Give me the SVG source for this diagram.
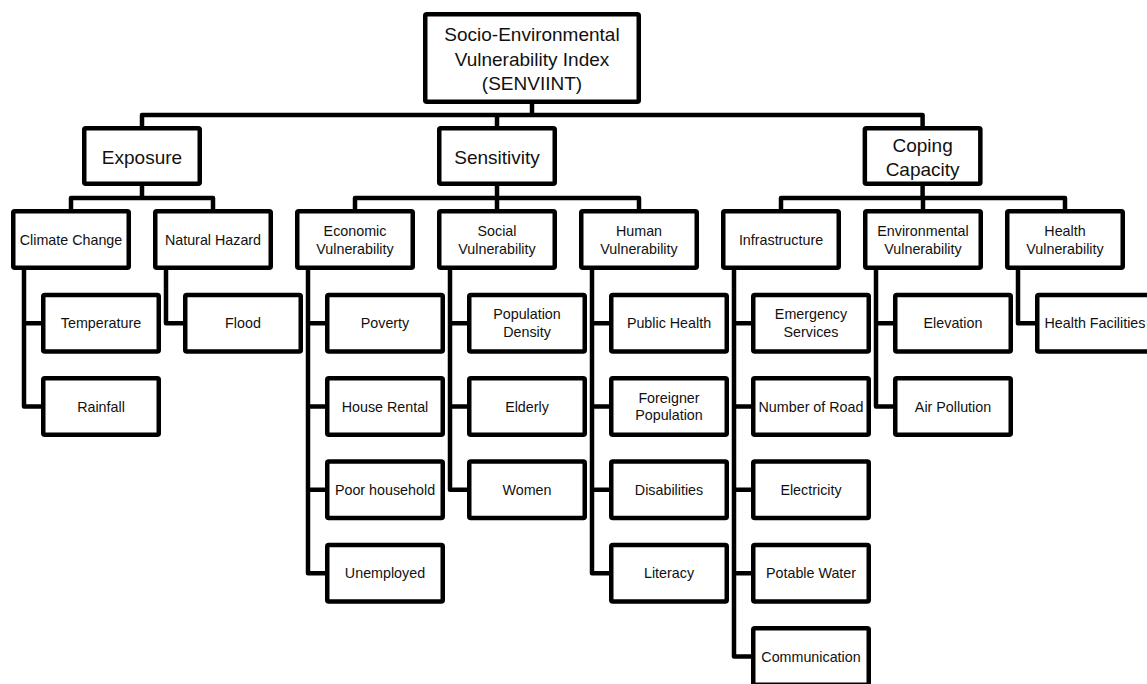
<svg xmlns="http://www.w3.org/2000/svg" width="1147" height="684" viewBox="0 0 1147 684">
  <style>
    .box { fill: #ffffff; stroke: #000000; stroke-width: 4.5; stroke-linejoin: round; }
    .wire { fill: none; stroke: #000000; stroke-width: 4.5; stroke-linejoin: round; stroke-linecap: butt; }
    text { font-family: "Liberation Sans", Arial, sans-serif; fill: #111111; text-anchor: middle; }
    .big { font-size: 19px; }
    .small { font-size: 14.3px; }
  </style>
  <rect x="0" y="0" width="1147" height="684" fill="#ffffff"/>

  <!-- tree connectors -->
  <g id="connectors">
    <path class="wire" d="M532,102 V115"/>
    <path class="wire" d="M142,128 V115 H922.6 V128"/>
    <path class="wire" d="M497,115 V128"/>
    <path class="wire" d="M142,184 V198"/>
    <path class="wire" d="M71,211 V198 H213 V211"/>
    <path class="wire" d="M497,184 V198"/>
    <path class="wire" d="M355,211 V198 H639 V211"/>
    <path class="wire" d="M497,198 V211"/>
    <path class="wire" d="M922.6,184 V198"/>
    <path class="wire" d="M781,211 V198 H1065 V211"/>
    <path class="wire" d="M923,198 V211"/>
    <path class="wire" d="M24,268 V406.5 H41 M24,323.2 H41"/>
    <path class="wire" d="M166,268 V323.2 H183"/>
    <path class="wire" d="M308,268 V573.2 H325 M308,323.2 H325 M308,406.5 H325 M308,489.8 H325"/>
    <path class="wire" d="M450,268 V489.8 H467 M450,323.2 H467 M450,406.5 H467"/>
    <path class="wire" d="M592,268 V573.2 H609 M592,323.2 H609 M592,406.5 H609 M592,489.8 H609"/>
    <path class="wire" d="M734,268 V656.5 H751 M734,323.2 H751 M734,406.5 H751 M734,489.8 H751 M734,573.2 H751"/>
    <path class="wire" d="M876,268 V406.5 H893 M876,323.2 H893"/>
    <path class="wire" d="M1018,268 V323.2 H1035"/>
  </g>

  <!-- root -->
  <g id="senviint">
    <rect class="box" x="425.25" y="14.25" width="213.5" height="87.5" rx="1.5"/>
    <text class="big" x="532" y="41">Socio-Environmental</text>
    <text class="big" x="532" y="65.5">Vulnerability Index</text>
    <text class="big" x="532" y="90">(SENVIINT)</text>
  </g>

  <!-- dimensions -->
  <g id="exposure">
    <rect class="box" x="84.25" y="128.25" width="115.5" height="55.5" rx="1.5"/>
    <text class="big" x="142" y="163.5">Exposure</text>
  </g>
  <g id="sensitivity">
    <rect class="box" x="439.25" y="128.25" width="115.5" height="55.5" rx="1.5"/>
    <text class="big" x="497" y="163.5">Sensitivity</text>
  </g>
  <g id="coping-capacity">
    <rect class="box" x="864.85" y="128.25" width="115.5" height="55.5" rx="1.5"/>
    <text class="big" x="922.6" y="151.5">Coping</text>
    <text class="big" x="922.6" y="175.5">Capacity</text>
  </g>

  <!-- components -->
  <g id="climate-change">
    <rect class="box" x="13.25" y="211.25" width="115.5" height="56.5" rx="1.5"/>
    <text class="small" x="71" y="245">Climate Change</text>
  </g>
  <g id="natural-hazard">
    <rect class="box" x="155.25" y="211.25" width="115.5" height="56.5" rx="1.5"/>
    <text class="small" x="213" y="245">Natural Hazard</text>
  </g>
  <g id="economic-vulnerability">
    <rect class="box" x="297.25" y="211.25" width="115.5" height="56.5" rx="1.5"/>
    <text class="small" x="355" y="235.7">Economic</text>
    <text class="small" x="355" y="253.5">Vulnerability</text>
  </g>
  <g id="social-vulnerability">
    <rect class="box" x="439.25" y="211.25" width="115.5" height="56.5" rx="1.5"/>
    <text class="small" x="497" y="235.7">Social</text>
    <text class="small" x="497" y="253.5">Vulnerability</text>
  </g>
  <g id="human-vulnerability">
    <rect class="box" x="581.25" y="211.25" width="115.5" height="56.5" rx="1.5"/>
    <text class="small" x="639" y="235.7">Human</text>
    <text class="small" x="639" y="253.5">Vulnerability</text>
  </g>
  <g id="infrastructure">
    <rect class="box" x="723.25" y="211.25" width="115.5" height="56.5" rx="1.5"/>
    <text class="small" x="781" y="245">Infrastructure</text>
  </g>
  <g id="environmental-vulnerability">
    <rect class="box" x="865.25" y="211.25" width="115.5" height="56.5" rx="1.5"/>
    <text class="small" x="923" y="235.7">Environmental</text>
    <text class="small" x="923" y="253.5">Vulnerability</text>
  </g>
  <g id="health-vulnerability">
    <rect class="box" x="1007.25" y="211.25" width="115.5" height="56.5" rx="1.5"/>
    <text class="small" x="1065" y="235.7">Health</text>
    <text class="small" x="1065" y="253.5">Vulnerability</text>
  </g>

  <!-- indicators: Exposure -->
  <g id="temperature">
    <rect class="box" x="43.25" y="294.95" width="115.5" height="56.5" rx="1.5"/>
    <text class="small" x="101" y="328.4">Temperature</text>
  </g>
  <g id="rainfall">
    <rect class="box" x="43.25" y="378.25" width="115.5" height="56.5" rx="1.5"/>
    <text class="small" x="101" y="411.7">Rainfall</text>
  </g>
  <g id="flood">
    <rect class="box" x="185.25" y="294.95" width="115.5" height="56.5" rx="1.5"/>
    <text class="small" x="243" y="328.4">Flood</text>
  </g>

  <!-- indicators: Sensitivity -->
  <g id="poverty">
    <rect class="box" x="327.25" y="294.95" width="115.5" height="56.5" rx="1.5"/>
    <text class="small" x="385" y="328.4">Poverty</text>
  </g>
  <g id="house-rental">
    <rect class="box" x="327.25" y="378.25" width="115.5" height="56.5" rx="1.5"/>
    <text class="small" x="385" y="411.7">House Rental</text>
  </g>
  <g id="poor-household">
    <rect class="box" x="327.25" y="461.55" width="115.5" height="56.5" rx="1.5"/>
    <text class="small" x="385" y="495">Poor household</text>
  </g>
  <g id="unemployed">
    <rect class="box" x="327.25" y="544.95" width="115.5" height="56.5" rx="1.5"/>
    <text class="small" x="385" y="578.4">Unemployed</text>
  </g>
  <g id="population-density">
    <rect class="box" x="469.25" y="294.95" width="115.5" height="56.5" rx="1.5"/>
    <text class="small" x="527" y="319.2">Population</text>
    <text class="small" x="527" y="336.7">Density</text>
  </g>
  <g id="elderly">
    <rect class="box" x="469.25" y="378.25" width="115.5" height="56.5" rx="1.5"/>
    <text class="small" x="527" y="411.7">Elderly</text>
  </g>
  <g id="women">
    <rect class="box" x="469.25" y="461.55" width="115.5" height="56.5" rx="1.5"/>
    <text class="small" x="527" y="495">Women</text>
  </g>
  <g id="public-health">
    <rect class="box" x="611.25" y="294.95" width="115.5" height="56.5" rx="1.5"/>
    <text class="small" x="669" y="328.4">Public Health</text>
  </g>
  <g id="foreigner-population">
    <rect class="box" x="611.25" y="378.25" width="115.5" height="56.5" rx="1.5"/>
    <text class="small" x="669" y="402.5">Foreigner</text>
    <text class="small" x="669" y="420">Population</text>
  </g>
  <g id="disabilities">
    <rect class="box" x="611.25" y="461.55" width="115.5" height="56.5" rx="1.5"/>
    <text class="small" x="669" y="495">Disabilities</text>
  </g>
  <g id="literacy">
    <rect class="box" x="611.25" y="544.95" width="115.5" height="56.5" rx="1.5"/>
    <text class="small" x="669" y="578.4">Literacy</text>
  </g>

  <!-- indicators: Coping Capacity -->
  <g id="emergency-services">
    <rect class="box" x="753.25" y="294.95" width="115.5" height="56.5" rx="1.5"/>
    <text class="small" x="811" y="319.2">Emergency</text>
    <text class="small" x="811" y="336.7">Services</text>
  </g>
  <g id="number-of-road">
    <rect class="box" x="753.25" y="378.25" width="115.5" height="56.5" rx="1.5"/>
    <text class="small" x="811" y="411.7">Number of Road</text>
  </g>
  <g id="electricity">
    <rect class="box" x="753.25" y="461.55" width="115.5" height="56.5" rx="1.5"/>
    <text class="small" x="811" y="495">Electricity</text>
  </g>
  <g id="potable-water">
    <rect class="box" x="753.25" y="544.95" width="115.5" height="56.5" rx="1.5"/>
    <text class="small" x="811" y="578.4">Potable Water</text>
  </g>
  <g id="communication">
    <rect class="box" x="753.25" y="628.25" width="115.5" height="56.5" rx="1.5"/>
    <text class="small" x="811" y="661.7">Communication</text>
  </g>
  <g id="elevation">
    <rect class="box" x="895.25" y="294.95" width="115.5" height="56.5" rx="1.5"/>
    <text class="small" x="953" y="328.4">Elevation</text>
  </g>
  <g id="air-pollution">
    <rect class="box" x="895.25" y="378.25" width="115.5" height="56.5" rx="1.5"/>
    <text class="small" x="953" y="411.7">Air Pollution</text>
  </g>
  <g id="health-facilities">
    <rect class="box" x="1037.25" y="294.95" width="115.5" height="56.5" rx="1.5"/>
    <text class="small" x="1095" y="328.4">Health Facilities</text>
  </g>
</svg>
